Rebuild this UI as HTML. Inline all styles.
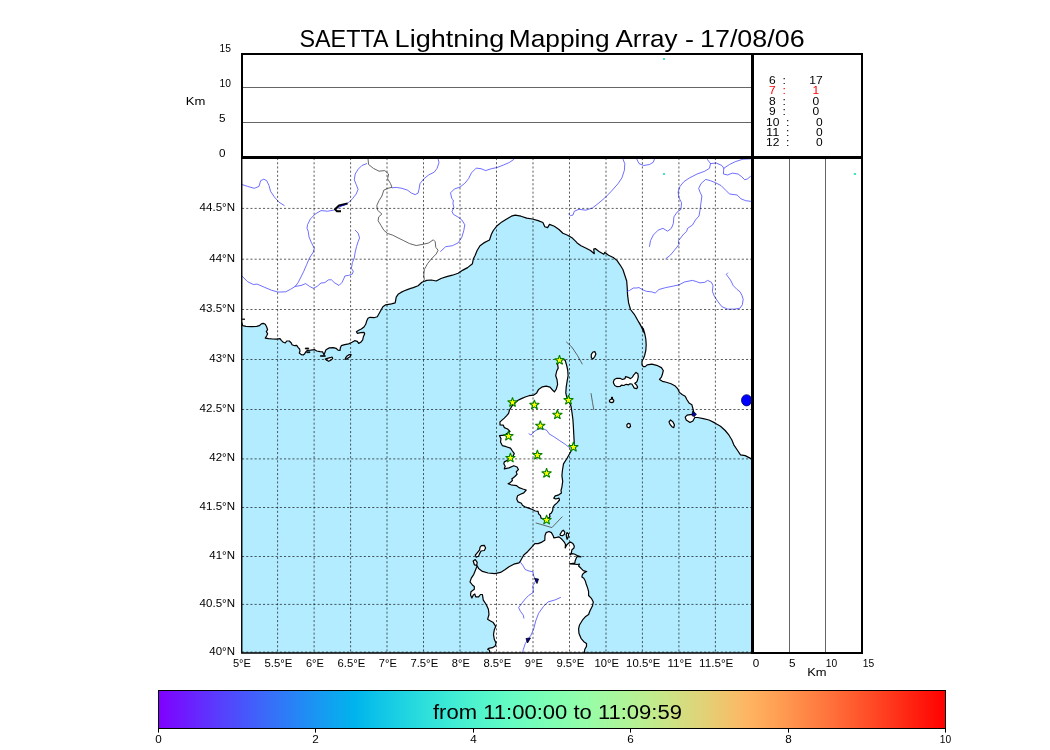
<!DOCTYPE html>
<html><head><meta charset="utf-8"><title>SAETTA Lightning Mapping Array</title>
<style>
html,body{margin:0;padding:0;background:#fff;}
body{width:1050px;height:750px;overflow:hidden;font-family:"Liberation Sans",sans-serif;}
svg{display:block;position:absolute;left:0;top:0;}
text{font-family:"Liberation Sans",sans-serif;fill:#000}
.r{fill:#f00}
.g{stroke:#000;stroke-width:0.8;stroke-dasharray:2.1 2.1;fill:none;opacity:.8}
.riv{fill:none;stroke:#4a4aff;stroke-width:0.8;stroke-linejoin:round;stroke-linecap:round}
.bor{fill:none;stroke:#555;stroke-width:0.9;stroke-linejoin:round}
.land{fill:#fff;stroke:#000;stroke-width:1.2;stroke-linejoin:round}
.star{fill:#ffff00;stroke:#008000;stroke-width:1.05;stroke-linejoin:bevel}
</style></head><body>
<svg width="1050" height="750" viewBox="0 0 1050 750">
<defs><linearGradient id="rb" x1="0" x2="1" y1="0" y2="0"><stop offset="0.0000" stop-color="#8000ff"/><stop offset="0.0250" stop-color="#7314ff"/><stop offset="0.0500" stop-color="#6628fe"/><stop offset="0.0750" stop-color="#593cfd"/><stop offset="0.1000" stop-color="#4c4ffc"/><stop offset="0.1250" stop-color="#4062fa"/><stop offset="0.1500" stop-color="#3374f8"/><stop offset="0.1750" stop-color="#2685f5"/><stop offset="0.2000" stop-color="#1996f3"/><stop offset="0.2250" stop-color="#0da6ef"/><stop offset="0.2500" stop-color="#00b4ec"/><stop offset="0.2750" stop-color="#0dc2e8"/><stop offset="0.3000" stop-color="#19cee3"/><stop offset="0.3250" stop-color="#26d9de"/><stop offset="0.3500" stop-color="#33e3d9"/><stop offset="0.3750" stop-color="#40ecd4"/><stop offset="0.4000" stop-color="#4df3ce"/><stop offset="0.4250" stop-color="#59f8c8"/><stop offset="0.4500" stop-color="#66fcc2"/><stop offset="0.4750" stop-color="#73febb"/><stop offset="0.5000" stop-color="#80ffb4"/><stop offset="0.5250" stop-color="#8cfead"/><stop offset="0.5500" stop-color="#99fca6"/><stop offset="0.5750" stop-color="#a6f89e"/><stop offset="0.6000" stop-color="#b2f396"/><stop offset="0.6250" stop-color="#bfec8e"/><stop offset="0.6500" stop-color="#cce385"/><stop offset="0.6750" stop-color="#d9d97d"/><stop offset="0.7000" stop-color="#e5ce74"/><stop offset="0.7250" stop-color="#f2c26b"/><stop offset="0.7500" stop-color="#ffb462"/><stop offset="0.7750" stop-color="#ffa658"/><stop offset="0.8000" stop-color="#ff964f"/><stop offset="0.8250" stop-color="#ff8545"/><stop offset="0.8500" stop-color="#ff743c"/><stop offset="0.8750" stop-color="#ff6232"/><stop offset="0.9000" stop-color="#ff4f28"/><stop offset="0.9250" stop-color="#ff3c1e"/><stop offset="0.9500" stop-color="#ff2814"/><stop offset="0.9750" stop-color="#ff140a"/><stop offset="1.0000" stop-color="#ff0000"/></linearGradient>
<filter id="gf" x="0" y="0" width="1050" height="750" filterUnits="userSpaceOnUse" color-interpolation-filters="sRGB"><feOffset dx="0" dy="0"/></filter>
<clipPath id="mc"><rect x="242" y="158" width="510" height="495"/></clipPath>
<path id="st" d="M0.00,-5.10 1.15,-1.58 4.85,-1.58 1.85,0.60 3.00,4.13 0.00,1.95 -3.00,4.13 -1.85,0.60 -4.85,-1.58 -1.15,-1.58Z"/>
</defs>
<rect width="1050" height="750" fill="#fff"/>
<g filter="url(#gf)">

<text x="299.5" y="46.5" font-size="24.6" textLength="89.0" lengthAdjust="spacingAndGlyphs">SAETTA</text>
<text x="394.6" y="46.5" font-size="24.6" textLength="109.8" lengthAdjust="spacingAndGlyphs">Lightning</text>
<text x="508.8" y="46.5" font-size="24.6" textLength="100.8" lengthAdjust="spacingAndGlyphs">Mapping</text>
<text x="615.4" y="46.5" font-size="24.6" textLength="62.2" lengthAdjust="spacingAndGlyphs">Array</text>
<text x="685.0" y="46.5" font-size="24.6" textLength="9.0" lengthAdjust="spacingAndGlyphs">-</text>
<text x="700.0" y="46.5" font-size="24.6" textLength="104.6" lengthAdjust="spacingAndGlyphs">17/08/06</text>
<g clip-path="url(#mc)">
<rect x="242" y="158" width="510" height="495" fill="#b3ecff"/>
<path class="land" d="M241.7,322.3 242.7,325.7 246.0,326.3 251.3,326.7 256.7,326.3 259.3,325.7 261.3,323.9 263.3,323.4 265.3,324.3 266.7,327.0 267.6,329.7 266.3,331.7 267.6,333.7 266.7,335.7 265.3,338.1 268.7,338.6 272.7,339.0 276.7,339.1 280.0,338.6 281.3,340.3 283.3,342.3 285.3,343.0 286.7,341.0 289.3,341.0 291.3,343.0 292.0,344.7 294.7,345.7 296.7,345.3 298.0,347.4 299.6,349.0 300.0,351.0 299.3,353.0 301.3,354.6 303.3,355.0 304.7,353.7 306.0,351.7 307.3,350.3 310.7,350.1 314.7,349.7 316.7,351.0 320.0,351.7 322.7,351.9 324.0,355.0 324.7,353.0 326.0,349.7 329.3,347.9 333.3,347.7 336.0,348.3 338.0,350.1 340.0,350.3 340.4,347.7 341.3,345.7 344.7,344.7 348.7,343.9 352.0,342.3 354.7,340.7 357.3,341.3 358.7,343.4 360.7,342.3 362.7,339.9 363.3,337.0 364.7,333.7 364.0,332.3 360.7,332.7 357.3,333.3 356.4,331.7 358.7,330.3 361.3,329.0 364.0,327.0 365.7,324.3 366.7,321.0 368.0,318.3 370.0,317.3 374.0,317.7 377.3,316.7 382.9,306.7 385.7,304.8 391.4,303.8 395.2,302.9 396.2,297.1 398.1,294.3 401.0,292.4 403.8,291.0 408.6,289.1 413.3,287.6 418.1,285.7 421.9,282.3 426.7,280.4 431.4,280.0 436.2,281.0 441.0,278.5 446.7,276.6 452.4,275.2 458.1,273.3 462.9,270.1 467.6,267.6 472.4,263.8 473.3,259.0 475.2,255.2 477.1,250.5 480.0,245.7 483.8,242.9 489.5,240.0 491.4,234.3 493.3,230.5 497.1,225.7 501.9,221.9 506.7,219.0 511.4,216.2 515.2,215.2 521.0,216.2 526.7,218.1 532.4,219.0 538.1,220.6 542.9,222.5 544.8,226.7 547.6,227.6 549.5,224.4 554.3,226.3 559.0,229.5 562.9,233.3 567.6,235.2 572.4,238.1 576.2,241.9 577.1,242.9 581.0,245.7 585.7,248.0 590.5,250.5 594.3,253.7 593.7,249.1 595.2,248.6 599.0,251.4 603.8,254.3 604.8,252.4 608.6,255.2 613.3,257.5 617.1,260.6 620.0,264.8 622.9,269.5 624.8,275.2 626.7,281.0 627.2,287.6 627.6,295.2 628.6,302.9 630.5,309.5 634.3,314.3 638.1,321.0 641.9,327.6 644.4,333.3 639.5,322.9 641.4,326.7 643.3,328.6 644.7,333.3 645.8,339.0 646.2,344.8 645.8,350.5 644.7,355.2 643.3,359.0 642.0,361.0 642.0,364.8 643.3,366.7 645.2,366.7 647.1,364.8 651.9,364.2 656.7,365.3 661.4,367.6 663.3,370.5 662.4,374.3 661.4,377.1 659.5,379.4 662.4,381.3 667.1,382.5 671.0,383.8 674.8,385.7 677.6,388.6 679.5,392.4 682.4,394.7 685.2,396.2 687.1,400.0 689.0,402.9 691.9,404.8 692.9,408.6 693.8,412.4 691.9,414.3 687.1,415.2 685.2,417.1 686.2,420.0 690.0,422.5 692.9,421.0 694.8,417.5 697.6,417.5 703.3,418.7 709.0,420.0 714.8,422.9 720.5,426.3 725.2,430.5 729.0,435.2 731.9,440.0 733.8,444.8 737.6,450.5 740.5,454.9 745.2,455.6 750.0,458.1 752.9,460.0 760.0,462.0 760.0,150.0 236.0,150.0 236.0,322.3Z"/>
<path class="land" d="M559.5,360.1 557.6,364.3 558.2,368.1 556.7,371.0 555.7,375.7 557.0,379.5 557.6,384.3 556.3,389.0 554.4,391.9 552.5,390.0 550.0,387.1 546.2,386.2 542.4,386.8 538.6,389.4 536.7,392.9 533.8,395.1 529.0,395.7 525.2,397.0 521.4,398.6 517.6,400.5 514.8,403.3 511.9,406.2 509.5,410.0 508.6,413.3 506.7,415.7 504.3,418.1 500.0,421.9 500.0,424.8 503.3,425.2 504.3,427.6 507.6,429.0 510.0,431.4 504.3,435.2 499.5,435.7 501.0,438.6 500.5,441.9 502.4,445.7 506.2,446.7 510.5,448.1 512.4,451.0 514.3,453.6 513.3,455.7 509.0,459.5 504.3,461.9 503.8,463.8 505.2,466.2 504.3,468.9 509.0,467.9 513.8,465.7 517.1,467.0 518.4,469.5 516.2,471.9 517.1,474.3 514.6,476.7 512.1,478.8 511.9,478.6 512.4,480.5 510.5,482.4 508.1,483.8 511.0,484.8 513.3,485.2 516.7,485.7 519.0,487.6 522.9,489.0 526.2,490.0 523.8,492.9 520.5,494.3 517.6,495.7 516.7,499.0 518.1,501.9 521.4,503.3 522.4,505.2 524.8,506.7 528.6,508.1 532.4,509.5 535.2,511.0 538.1,511.4 538.6,513.8 540.5,515.7 541.0,518.1 546.7,519.8 550.0,516.7 549.5,514.3 551.4,512.9 552.7,510.5 552.9,507.6 554.3,505.2 557.1,502.9 559.5,500.0 559.0,498.1 555.7,499.0 553.8,498.1 555.2,495.9 558.1,495.2 561.4,492.9 561.0,490.5 561.9,487.1 562.7,481.4 561.9,475.7 562.4,470.5 563.5,463.8 566.6,459.0 569.6,453.7 571.9,449.5 573.4,448.1 574.2,442.4 573.8,434.8 573.4,427.1 572.9,419.5 571.9,411.9 571.0,406.2 569.0,401.4 566.6,396.7 565.8,392.9 566.2,387.1 567.1,381.4 568.1,375.7 567.7,370.0 566.6,365.2 565.2,360.5 562.4,358.6Z M477.2,565.7 478.6,568.6 482.4,571.4 488.1,573.0 494.8,573.7 500.5,572.4 505.2,569.5 509.0,566.7 513.8,564.2 519.0,562.9 520.0,561.7 523.8,555.0 527.6,551.7 532.4,546.4 534.8,543.6 538.1,543.6 541.9,542.1 544.8,540.2 545.0,535.5 546.2,532.6 549.0,531.5 551.4,532.6 553.3,536.0 553.8,537.9 556.7,537.4 559.0,536.9 561.9,539.3 564.3,542.1 565.5,544.5 565.2,547.9 566.7,545.0 568.6,543.1 570.5,542.1 572.9,543.6 574.3,546.0 573.8,548.3 571.9,549.8 571.4,552.6 570.0,555.0 571.9,553.6 574.3,554.0 577.1,555.5 581.0,556.9 577.1,556.4 576.2,558.3 575.2,560.7 574.8,563.1 569.5,563.9 574.8,564.2 577.1,564.5 579.5,564.0 578.6,566.0 581.0,568.3 583.3,570.7 586.7,571.5 584.3,572.6 582.4,574.5 581.9,576.9 583.8,578.3 585.2,580.7 586.2,584.0 587.6,587.9 588.6,591.7 588.6,595.5 591.4,598.3 593.3,602.1 592.4,606.0 590.0,610.7 588.6,614.5 585.7,616.4 582.4,620.2 579.5,625.0 578.6,628.8 579.0,633.6 581.0,638.3 583.8,641.7 586.5,643.6 586.5,646.4 584.8,649.3 584.3,652.6 584.3,662.0 489.7,662.0 489.7,653.1 489.5,650.2 487.6,649.3 488.6,648.3 492.4,647.7 495.2,646.0 496.0,643.1 494.3,639.3 493.5,634.5 494.3,629.8 495.7,626.4 493.3,622.6 490.5,621.0 487.6,619.3 489.0,614.5 488.4,609.3 486.2,604.5 483.3,600.2 482.4,594.5 480.5,594.5 478.6,596.9 475.7,596.9 474.8,594.0 473.3,595.0 471.9,597.9 470.5,595.0 471.0,591.7 474.3,589.3 474.3,586.4 472.4,585.0 470.0,581.9 471.3,578.1 473.8,574.3 475.7,569.5Z M560.0,534.5 561.9,531.2 563.3,530.2 564.8,532.1 564.3,534.5 562.4,535.7 560.5,535.5Z M566.2,534.5 567.1,532.6 568.6,534.0 568.1,537.4 567.1,539.3 566.5,536.9Z M481.4,545.7 484.3,545.3 485.6,548.0 484.3,550.5 481.0,551.0 479.5,553.9 478.6,556.2 476.1,557.1 475.3,555.2 477.2,552.8 479.5,550.1 480.1,547.2Z M473.2,561.0 475.3,559.6 477.2,562.3 476.7,565.3 474.4,564.8Z M613.3,381.9 614.3,379.5 616.7,378.3 620.0,378.3 622.4,379.5 625.0,378.6 625.5,376.7 628.1,377.3 630.5,378.6 632.4,377.1 633.8,374.8 636.0,372.4 637.9,373.8 638.3,376.7 637.6,380.0 636.7,381.9 634.8,383.3 636.7,385.2 637.6,387.1 636.7,388.6 634.3,388.1 632.9,385.7 631.9,384.0 630.0,383.8 628.6,384.8 626.2,384.3 623.8,385.5 621.4,385.2 620.0,386.5 617.1,386.7 614.8,385.5 613.8,383.8Z M591.3,354.3 592.9,352.0 594.8,351.6 595.9,353.9 594.8,356.6 592.9,359.0 591.3,357.7Z M609.3,401.0 610.0,399.8 611.4,399.2 611.6,397.3 612.4,397.3 612.6,399.2 613.8,400.2 613.5,401.9 611.9,402.6 610.0,402.1Z M626.8,424.8 628.1,423.4 630.0,423.8 630.6,426.3 629.0,427.8 627.1,427.0Z M669.0,421.9 670.6,420.0 672.9,421.9 674.4,424.8 673.8,427.6 671.9,426.7 670.0,424.4Z M325.3,359.0 327.3,358.3 330.0,357.7 332.0,357.0 332.7,358.3 330.7,360.3 328.7,361.3 326.7,360.3Z M345.3,358.3 346.7,356.3 349.3,354.6 351.1,354.6 350.0,356.7 347.3,358.6 345.7,359.4Z"/>
<path fill="#000" stroke="#000" stroke-width="0.6" d="M305.3,347.9 308.7,347.9 308.7,349.1 305.3,349.1Z M306.7,351.7 310.0,351.7 310.0,352.7 306.7,352.7Z M320.4,355.5 325.3,355.5 325.3,356.5 320.4,356.5Z"/>
<path d="M241,319.2H245" stroke="#000" stroke-width="1.2"/>

<path class="bor" d="M368.0,158.8 368.6,164.5 373.3,168.3 379.0,171.2 384.8,170.6 388.6,174.0 387.6,178.8 390.5,183.6 392.0,187.4 387.6,188.3 383.8,190.2 381.9,196.0 379.0,200.7 376.8,205.5 377.5,210.2 381.9,214.0 378.7,216.9 378.1,220.7 381.0,225.5 383.8,230.2 387.6,233.5 392.4,235.0 398.1,237.9 403.8,240.7 409.5,243.6 416.2,245.5 421.9,244.5 428.6,243.0 433.3,239.8 435.2,241.7 435.8,247.4 438.1,250.2 436.2,254.0 431.4,258.8 427.6,263.6 424.4,269.3 423.8,275.0 424.4,279.8"/>
<path class="bor" stroke-width="0.7" d="M566.2,341.8 571.9,347.1 577.6,355.7 582.4,364.3 M591.0,393.2 592.5,402.4 593.8,410.0 M535.7,522.9 551.9,527.6 562.4,516.6"/>
<path class="riv" d="M241.9,184.5 247.6,186.4 254.3,188.3 259.0,186.4 260.6,180.7 263.8,179.2 266.7,180.7 269.0,185.5 270.5,191.2 274.3,196.9 279.0,202.2 284.2,205.5 M366.7,163.6 361.9,165.5 358.1,169.3 355.2,174.0 354.3,179.8 356.2,184.5 358.1,189.3 356.2,194.0 352.4,198.8 348.6,202.6 341.0,206.4 333.3,210.2 327.6,211.2 321.0,210.6 315.2,214.0 310.5,218.8 307.6,224.5 307.0,228.3 308.2,231.2 309.0,236.9 311.4,242.6 314.3,248.3 313.3,252.1 309.5,257.9 306.7,264.5 303.8,271.2 301.0,276.9 298.1,282.6 295.2,286.4 290.5,289.3 285.7,291.8 278.1,292.1 271.4,290.2 264.8,287.4 257.1,284.1 253.3,284.5 247.6,281.7 243.8,277.9 240.0,274.0 M295.2,286.4 301.0,285.5 305.7,283.6 309.5,286.4 313.3,288.3 317.1,286.4 321.0,283.0 324.8,282.6 328.6,279.8 331.4,279.8 334.3,282.6 339.0,285.5 341.9,282.6 343.8,278.8 344.8,276.0 348.6,275.4 352.4,274.0 353.3,271.2 351.4,268.3 352.4,262.6 354.3,257.9 355.2,252.1 356.6,246.4 358.1,241.7 359.6,237.9 358.1,233.1 355.2,230.2 M438.1,158.8 439.0,162.6 437.1,168.3 434.3,172.1 428.6,175.0 423.8,178.8 420.0,183.6 419.0,189.3 418.1,193.1 415.2,194.6 411.4,193.1 407.6,190.2 401.9,188.3 396.2,187.4 392.4,187.8 M440.6,251.4 445.7,246.7 452.4,245.7 458.1,242.9 461.9,237.1 463.8,230.5 464.8,224.8 461.9,220.0 458.1,217.1 453.3,214.3 452.0,211.4 453.9,207.6 453.0,203.8 453.3,200.0 451.8,198.6 450.5,192.9 454.3,189.0 460.0,187.1 464.8,183.3 468.6,178.6 471.4,172.9 476.2,168.1 481.0,168.7 485.7,170.6 491.4,168.7 497.1,167.5 503.8,164.9 509.5,162.4 513.7,159.5 516.2,156.7 M568.6,214.0 570.5,215.6 573.0,215.0 574.3,211.2 579.0,209.3 585.7,210.2 592.4,208.0 598.1,203.6 604.8,197.9 611.4,191.2 618.1,183.6 621.9,177.9 624.4,170.2 624.8,163.6 623.2,159.8 622.9,156.9 M636.2,157.9 639.0,163.6 643.8,165.5 649.5,164.5 653.3,162.2 654.9,157.9 M649.5,246.4 650.5,240.7 653.3,235.0 658.1,230.2 662.9,228.3 667.6,231.2 671.4,228.3 673.3,223.6 673.9,216.9 677.1,212.1 681.0,209.3 681.5,202.6 679.0,197.9 678.1,192.1 680.0,186.4 683.8,181.7 689.5,177.9 697.1,174.0 704.8,171.2 709.5,168.3 710.5,163.6 707.6,159.8 706.7,156.9 M710.5,163.6 716.2,163.0 721.9,165.5 723.8,168.3 729.5,164.5 735.2,161.7 742.9,159.2 750.5,158.8 M723.8,168.3 723.4,174.0 727.6,175.0 732.4,173.1 738.1,174.0 741.9,176.9 744.8,179.8 747.6,178.8 750.5,176.3 M665.7,258.8 670.5,255.0 675.2,249.3 679.0,244.5 678.5,240.7 682.9,235.0 686.7,231.2 687.6,228.3 692.4,225.1 695.6,219.8 699.0,216.0 700.0,210.2 701.0,202.6 701.9,196.0 700.0,192.1 698.7,188.3 701.0,183.6 705.7,179.4 710.5,180.7 715.2,182.6 721.0,185.5 725.7,190.2 729.5,194.0 737.1,195.0 741.0,198.8 745.7,200.7 750.5,201.3 M627.2,291.4 629.5,290.5 633.3,288.0 636.2,288.0 639.0,287.6 642.9,289.9 646.7,291.4 651.4,291.8 655.2,293.0 659.0,289.5 665.7,287.6 673.3,286.1 679.0,284.8 684.8,281.9 692.4,280.4 696.2,281.5 700.0,282.9 704.8,282.3 707.6,280.4 711.4,282.3 713.0,285.7 712.4,291.4 714.3,296.2 718.1,301.9 721.9,306.7 727.6,309.1 734.3,309.1 740.0,308.2 742.3,304.8 743.2,299.4 741.9,295.2 740.0,291.8 737.1,289.5 733.3,285.7 730.5,280.0 727.6,276.2 726.3,274.3 727.6,273.0 M529.0,433.8 531.0,435.1 533.8,431.9 537.6,429.4 543.3,428.7 547.1,430.6 549.0,433.8 553.8,436.7 559.5,440.5 565.2,444.3 570.0,448.1 M520.5,562.3 523.3,566.1 525.2,569.5 529.0,571.0 532.9,571.8 533.8,576.2 535.7,580.0 534.8,582.9 532.9,585.7 533.4,592.4 529.0,595.2 525.2,599.0 521.4,603.8 518.6,607.6 520.5,611.4 523.3,615.2 523.9,618.1 M560.5,597.5 554.8,600.0 548.1,601.9 543.3,606.7 538.6,613.3 535.7,621.0 533.8,628.6 531.0,635.2 528.1,639.0 525.2,643.8 523.3,649.5 522.4,653.3"/>
<ellipse cx="746.6" cy="400.3" rx="5.1" ry="5.6" fill="#0000ff" stroke="#000070" stroke-width="0.8"/>
<path d="M347.6,203.6 339,205.5 335,209.3 337,211.2 341,211.2" fill="none" stroke="#000" stroke-width="2" stroke-linejoin="round"/><path d="M346,204.5 339.5,206.3" fill="none" stroke="#00a" stroke-width="0.8"/>
<path d="M534.5,578.5 538.5,579 537,583.5Z" fill="#00a" stroke="#000" stroke-width="0.8"/>
<path d="M526,638.5 530.5,638 527.5,643Z" fill="#00a" stroke="#000" stroke-width="0.8"/>
<path d="M692.6,411.2 696.4,414 694.4,416.6 692,415.6Z" fill="#0000c8" stroke="#000" stroke-width="0.8"/>

<line class="g" x1="277.6" x2="277.6" y1="158" y2="653"/>
<line class="g" x1="314.1" x2="314.1" y1="158" y2="653"/>
<line class="g" x1="350.6" x2="350.6" y1="158" y2="653"/>
<line class="g" x1="387.0" x2="387.0" y1="158" y2="653"/>
<line class="g" x1="423.5" x2="423.5" y1="158" y2="653"/>
<line class="g" x1="460.0" x2="460.0" y1="158" y2="653"/>
<line class="g" x1="496.5" x2="496.5" y1="158" y2="653"/>
<line class="g" x1="533.0" x2="533.0" y1="158" y2="653"/>
<line class="g" x1="569.5" x2="569.5" y1="158" y2="653"/>
<line class="g" x1="606.0" x2="606.0" y1="158" y2="653"/>
<line class="g" x1="642.4" x2="642.4" y1="158" y2="653"/>
<line class="g" x1="678.9" x2="678.9" y1="158" y2="653"/>
<line class="g" x1="715.4" x2="715.4" y1="158" y2="653"/>
<line class="g" x1="242" x2="752" y1="208.4" y2="208.4"/>
<line class="g" x1="242" x2="752" y1="259.2" y2="259.2"/>
<line class="g" x1="242" x2="752" y1="309.5" y2="309.5"/>
<line class="g" x1="242" x2="752" y1="359.5" y2="359.5"/>
<line class="g" x1="242" x2="752" y1="409.5" y2="409.5"/>
<line class="g" x1="242" x2="752" y1="458.9" y2="458.9"/>
<line class="g" x1="242" x2="752" y1="507.5" y2="507.5"/>
<line class="g" x1="242" x2="752" y1="556.5" y2="556.5"/>
<line class="g" x1="242" x2="752" y1="604.4" y2="604.4"/>
<line class="g" x1="242" x2="752" y1="652.1" y2="652.1"/>
<path class="star" d="M559.50,355.20 560.65,358.72 564.35,358.72 561.35,360.90 562.50,364.43 559.50,362.25 556.50,364.43 557.65,360.90 554.65,358.72 558.35,358.72Z M512.50,397.30 513.65,400.82 517.35,400.82 514.35,403.00 515.50,406.53 512.50,404.35 509.50,406.53 510.65,403.00 507.65,400.82 511.35,400.82Z M534.40,399.80 535.55,403.32 539.25,403.32 536.25,405.50 537.40,409.03 534.40,406.85 531.40,409.03 532.55,405.50 529.55,403.32 533.25,403.32Z M568.50,395.00 569.65,398.52 573.35,398.52 570.35,400.70 571.50,404.23 568.50,402.05 565.50,404.23 566.65,400.70 563.65,398.52 567.35,398.52Z M557.40,409.70 558.55,413.22 562.25,413.22 559.25,415.40 560.40,418.93 557.40,416.75 554.40,418.93 555.55,415.40 552.55,413.22 556.25,413.22Z M540.30,420.70 541.45,424.22 545.15,424.22 542.15,426.40 543.30,429.93 540.30,427.75 537.30,429.93 538.45,426.40 535.45,424.22 539.15,424.22Z M508.50,431.00 509.65,434.52 513.35,434.52 510.35,436.70 511.50,440.23 508.50,438.05 505.50,440.23 506.65,436.70 503.65,434.52 507.35,434.52Z M573.40,442.00 574.55,445.52 578.25,445.52 575.25,447.70 576.40,451.23 573.40,449.05 570.40,451.23 571.55,447.70 568.55,445.52 572.25,445.52Z M537.40,450.00 538.55,453.52 542.25,453.52 539.25,455.70 540.40,459.23 537.40,457.05 534.40,459.23 535.55,455.70 532.55,453.52 536.25,453.52Z M510.40,452.90 511.55,456.42 515.25,456.42 512.25,458.60 513.40,462.13 510.40,459.95 507.40,462.13 508.55,458.60 505.55,456.42 509.25,456.42Z M546.60,468.20 547.75,471.72 551.45,471.72 548.45,473.90 549.60,477.43 546.60,475.25 543.60,477.43 544.75,473.90 541.75,471.72 545.45,471.72Z M546.60,514.90 547.75,518.42 551.45,518.42 548.45,520.60 549.60,524.13 546.60,521.95 543.60,524.13 544.75,520.60 541.75,518.42 545.45,518.42Z"/>

</g>
<line x1="243" x2="752" y1="87.5" y2="87.5" stroke="#666" stroke-width="1"/>
<line x1="243" x2="752" y1="122.5" y2="122.5" stroke="#666" stroke-width="1"/>
<line x1="789.5" x2="789.5" y1="158" y2="653" stroke="#666" stroke-width="1"/>
<line x1="825.5" x2="825.5" y1="158" y2="653" stroke="#666" stroke-width="1"/>
<path d="M242,158V54H862V653H752" fill="none" stroke="#000" stroke-width="2"/>
<path d="M241.75,158V653.05H752" fill="none" stroke="#000" stroke-width="1.4"/>
<line x1="241" x2="863" y1="157.5" y2="157.5" stroke="#000" stroke-width="3"/>
<line x1="752.5" x2="752.5" y1="53" y2="654" stroke="#000" stroke-width="3"/>
<rect x="663.0" y="58.0" width="2.0" height="2" fill="#3fe8c4"/>
<rect x="663.0" y="173.0" width="2.0" height="2" fill="#3fe8c4"/>
<rect x="853.8" y="173.0" width="2.2" height="2" fill="#3fe8c4"/>

<text x="219.5" y="52.0" font-size="10.5" textLength="11.4" lengthAdjust="spacingAndGlyphs">15</text>
<text x="219.5" y="86.9" font-size="10.5" textLength="11.4" lengthAdjust="spacingAndGlyphs">10</text>
<text x="219.0" y="122.0" font-size="10.5" textLength="6.5" lengthAdjust="spacingAndGlyphs">5</text>
<text x="219.0" y="156.9" font-size="10.5" textLength="6.5" lengthAdjust="spacingAndGlyphs">0</text>
<text x="185.8" y="104.8" font-size="11.8" textLength="19.6" lengthAdjust="spacingAndGlyphs">Km</text>
<text x="199.6" y="211.0" font-size="10.5" textLength="35.4" lengthAdjust="spacingAndGlyphs">44.5°N</text>
<text x="209.3" y="262.0" font-size="10.5" textLength="25.7" lengthAdjust="spacingAndGlyphs">44°N</text>
<text x="199.6" y="312.0" font-size="10.5" textLength="35.4" lengthAdjust="spacingAndGlyphs">43.5°N</text>
<text x="209.3" y="362.0" font-size="10.5" textLength="25.7" lengthAdjust="spacingAndGlyphs">43°N</text>
<text x="199.6" y="412.0" font-size="10.5" textLength="35.4" lengthAdjust="spacingAndGlyphs">42.5°N</text>
<text x="209.3" y="461.0" font-size="10.5" textLength="25.7" lengthAdjust="spacingAndGlyphs">42°N</text>
<text x="199.6" y="510.0" font-size="10.5" textLength="35.4" lengthAdjust="spacingAndGlyphs">41.5°N</text>
<text x="209.3" y="559.0" font-size="10.5" textLength="25.7" lengthAdjust="spacingAndGlyphs">41°N</text>
<text x="199.6" y="607.0" font-size="10.5" textLength="35.4" lengthAdjust="spacingAndGlyphs">40.5°N</text>
<text x="209.3" y="655.0" font-size="10.5" textLength="25.7" lengthAdjust="spacingAndGlyphs">40°N</text>
<text x="232.9" y="666.5" font-size="10.5" textLength="18.0" lengthAdjust="spacingAndGlyphs">5°E</text>
<text x="264.5" y="666.5" font-size="10.5" textLength="27.8" lengthAdjust="spacingAndGlyphs">5.5°E</text>
<text x="305.9" y="666.5" font-size="10.5" textLength="18.0" lengthAdjust="spacingAndGlyphs">6°E</text>
<text x="337.5" y="666.5" font-size="10.5" textLength="27.8" lengthAdjust="spacingAndGlyphs">6.5°E</text>
<text x="378.8" y="666.5" font-size="10.5" textLength="18.0" lengthAdjust="spacingAndGlyphs">7°E</text>
<text x="410.4" y="666.5" font-size="10.5" textLength="27.8" lengthAdjust="spacingAndGlyphs">7.5°E</text>
<text x="451.8" y="666.5" font-size="10.5" textLength="18.0" lengthAdjust="spacingAndGlyphs">8°E</text>
<text x="483.4" y="666.5" font-size="10.5" textLength="27.8" lengthAdjust="spacingAndGlyphs">8.5°E</text>
<text x="524.8" y="666.5" font-size="10.5" textLength="18.0" lengthAdjust="spacingAndGlyphs">9°E</text>
<text x="556.4" y="666.5" font-size="10.5" textLength="27.8" lengthAdjust="spacingAndGlyphs">9.5°E</text>
<text x="594.5" y="666.5" font-size="10.5" textLength="24.5" lengthAdjust="spacingAndGlyphs">10°E</text>
<text x="626.1" y="666.5" font-size="10.5" textLength="34.3" lengthAdjust="spacingAndGlyphs">10.5°E</text>
<text x="667.5" y="666.5" font-size="10.5" textLength="24.5" lengthAdjust="spacingAndGlyphs">11°E</text>
<text x="699.1" y="666.5" font-size="10.5" textLength="34.3" lengthAdjust="spacingAndGlyphs">11.5°E</text>
<text x="752.7" y="666.5" font-size="10.5" textLength="6.5" lengthAdjust="spacingAndGlyphs">0</text>
<text x="789.0" y="666.5" font-size="10.5" textLength="6.5" lengthAdjust="spacingAndGlyphs">5</text>
<text x="825.8" y="666.5" font-size="10.5" textLength="11.4" lengthAdjust="spacingAndGlyphs">10</text>
<text x="862.7" y="666.5" font-size="10.5" textLength="11.4" lengthAdjust="spacingAndGlyphs">15</text>
<text x="807.2" y="675.7" font-size="11.8" textLength="19.4" lengthAdjust="spacingAndGlyphs">Km</text>
<text x="769.1" y="83.7" font-size="10.5" textLength="6.7" lengthAdjust="spacingAndGlyphs">6</text>
<text x="782.6" y="83.7" font-size="10.5" textLength="3.4" lengthAdjust="spacingAndGlyphs">:</text>
<text x="809.2" y="83.7" font-size="10.5" textLength="13.4" lengthAdjust="spacingAndGlyphs">17</text>
<text x="769.1" y="93.8" font-size="10.5" textLength="6.7" lengthAdjust="spacingAndGlyphs" class="r">7</text>
<text x="782.6" y="93.8" font-size="10.5" textLength="3.4" lengthAdjust="spacingAndGlyphs" class="r">:</text>
<text x="812.5" y="93.8" font-size="10.5" textLength="6.7" lengthAdjust="spacingAndGlyphs" class="r">1</text>
<text x="769.1" y="104.6" font-size="10.5" textLength="6.7" lengthAdjust="spacingAndGlyphs">8</text>
<text x="782.6" y="104.6" font-size="10.5" textLength="3.4" lengthAdjust="spacingAndGlyphs">:</text>
<text x="812.5" y="104.6" font-size="10.5" textLength="6.7" lengthAdjust="spacingAndGlyphs">0</text>
<text x="769.1" y="114.7" font-size="10.5" textLength="6.7" lengthAdjust="spacingAndGlyphs">9</text>
<text x="782.6" y="114.7" font-size="10.5" textLength="3.4" lengthAdjust="spacingAndGlyphs">:</text>
<text x="812.5" y="114.7" font-size="10.5" textLength="6.7" lengthAdjust="spacingAndGlyphs">0</text>
<text x="766.0" y="125.6" font-size="10.5" textLength="13.4" lengthAdjust="spacingAndGlyphs">10</text>
<text x="786.0" y="125.6" font-size="10.5" textLength="3.4" lengthAdjust="spacingAndGlyphs">:</text>
<text x="815.9" y="125.6" font-size="10.5" textLength="6.7" lengthAdjust="spacingAndGlyphs">0</text>
<text x="766.0" y="135.6" font-size="10.5" textLength="13.4" lengthAdjust="spacingAndGlyphs">11</text>
<text x="786.0" y="135.6" font-size="10.5" textLength="3.4" lengthAdjust="spacingAndGlyphs">:</text>
<text x="815.9" y="135.6" font-size="10.5" textLength="6.7" lengthAdjust="spacingAndGlyphs">0</text>
<text x="766.0" y="145.5" font-size="10.5" textLength="13.4" lengthAdjust="spacingAndGlyphs">12</text>
<text x="786.0" y="145.5" font-size="10.5" textLength="3.4" lengthAdjust="spacingAndGlyphs">:</text>
<text x="815.9" y="145.5" font-size="10.5" textLength="6.7" lengthAdjust="spacingAndGlyphs">0</text>
<rect x="158.5" y="690.5" width="787" height="38" fill="url(#rb)" stroke="#000" stroke-width="1"/>
<line x1="158.5" x2="158.5" y1="729" y2="732.6" stroke="#000" stroke-width="1"/>
<text x="155.3" y="742.9" font-size="10.5" textLength="6.5" lengthAdjust="spacingAndGlyphs">0</text>
<line x1="315.5" x2="315.5" y1="729" y2="732.6" stroke="#000" stroke-width="1"/>
<text x="312.3" y="742.9" font-size="10.5" textLength="6.5" lengthAdjust="spacingAndGlyphs">2</text>
<line x1="473.5" x2="473.5" y1="729" y2="732.6" stroke="#000" stroke-width="1"/>
<text x="470.3" y="742.9" font-size="10.5" textLength="6.5" lengthAdjust="spacingAndGlyphs">4</text>
<line x1="630.5" x2="630.5" y1="729" y2="732.6" stroke="#000" stroke-width="1"/>
<text x="627.3" y="742.9" font-size="10.5" textLength="6.5" lengthAdjust="spacingAndGlyphs">6</text>
<line x1="788.5" x2="788.5" y1="729" y2="732.6" stroke="#000" stroke-width="1"/>
<text x="785.3" y="742.9" font-size="10.5" textLength="6.5" lengthAdjust="spacingAndGlyphs">8</text>
<line x1="945.5" x2="945.5" y1="729" y2="732.6" stroke="#000" stroke-width="1"/>
<text x="939.8" y="742.9" font-size="10.5" textLength="11.4" lengthAdjust="spacingAndGlyphs">10</text>
<text x="557.5" y="719" text-anchor="middle" font-size="20.5" textLength="249" lengthAdjust="spacingAndGlyphs">from 11:00:00 to 11:09:59</text>
</g></svg></body></html>
